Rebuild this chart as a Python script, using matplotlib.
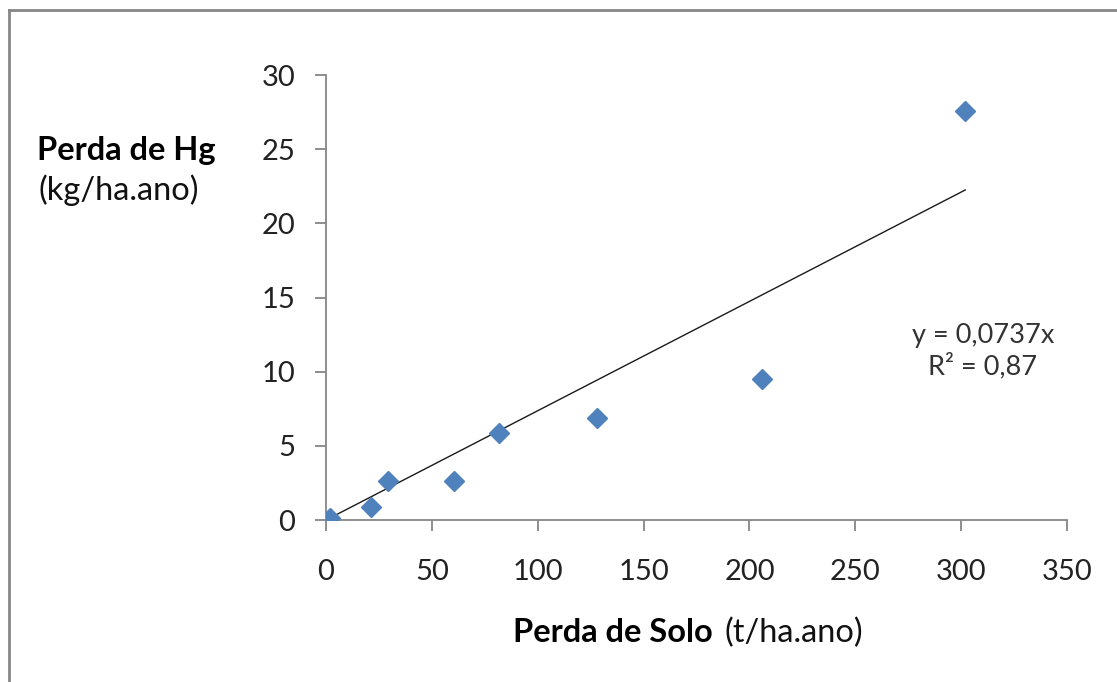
import numpy as np
import matplotlib.pyplot as plt
from matplotlib.lines import Line2D

solo = [1.9, 21.2, 29.2, 60.4, 81.6, 127.8, 205.7, 301.9]
hg = [0.15, 0.85, 2.6, 2.6, 5.9, 6.9, 9.5, 27.6]
slope = 0.0737
eq_text = "y = 0,0737x"
r2_text = "R² = 0,87"

plt.rcParams['font.family'] = ['Lato', 'DejaVu Sans']

fig = plt.figure(figsize=(11.17, 6.82), dpi=100)
ax = fig.add_axes([0.2919, 0.2375, 0.9553 - 0.2919, 0.890 - 0.2375])

xfit = np.array([0, max(solo)])
ax.plot(xfit, slope * xfit, color='#1a1a1a', linewidth=1.0, zorder=2)
ax.plot(solo, hg, linestyle='none', marker='D', markersize=10.5,
        color='#4F81BD', markeredgecolor='#4F81BD', zorder=3)

ax.set_xlim(0, 350)
ax.set_ylim(0, 30)
ax.set_xticks(range(0, 351, 50))
ax.set_yticks(range(0, 31, 5))
for s in ['top', 'right']:
    ax.spines[s].set_visible(False)
for s in ['left', 'bottom']:
    ax.spines[s].set_color('#868686')
    ax.spines[s].set_linewidth(1.3)
ax.tick_params(axis='both', direction='out', length=8, width=1.3,
               color='#868686', labelsize=21, labelcolor='#222222')
ax.tick_params(axis='y', pad=14)
ax.tick_params(axis='x', pad=20)

fig.text(983 / 1117, 1 - 335 / 682, eq_text, fontsize=19.5, color='#333333',
         ha='center', va='center')
fig.text(983 / 1117, 1 - 366 / 682, r2_text, fontsize=19.5, color='#333333',
         ha='center', va='center')

fig.text(0.0331, 0.780, "Perda de Hg", fontsize=23.5, fontweight='bold',
         ha='left', va='center', color='black')
fig.text(0.0349, 0.7214, "(kg/ha.ano)", fontsize=23.5,
         ha='left', va='center', color='#111111')

fig.text(713 / 1117, 0.072, "Perda de Solo", fontsize=23.5, fontweight='bold',
         ha='right', va='center', color='black')
fig.text(725 / 1117, 0.072, "(t/ha.ano)", fontsize=23.5,
         ha='left', va='center', color='#111111')

# outer frame (only left and top visible in the reference)
fig.add_artist(Line2D([9 / 1117, 9 / 1117], [0, 1 - 10 / 682],
                      transform=fig.transFigure, color='#868686', linewidth=2))
fig.add_artist(Line2D([9 / 1117, 1], [1 - 10 / 682, 1 - 10 / 682],
                      transform=fig.transFigure, color='#868686', linewidth=2))

fig.savefig('out.png', dpi=100)
